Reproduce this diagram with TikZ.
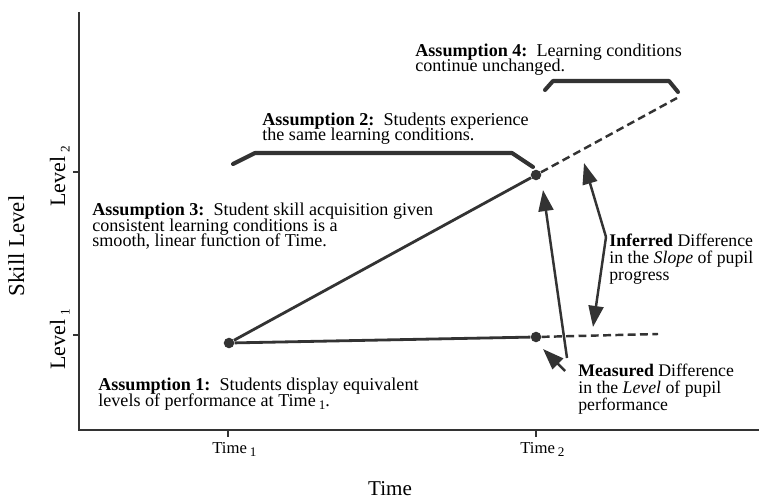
\documentclass[tikz,border=0pt]{standalone}
\usepackage{fontspec}
\setmainfont{Liberation Serif}
\usetikzlibrary{arrows.meta}
\definecolor{ink}{gray}{0.2}
\newcommand{\lowsub}[1]{\,\raisebox{-0.45ex}{\fontsize{7.5}{8}\selectfont #1}}
\newcommand{\tightlines}{\lineskiplimit=-10pt\relax}
\tikzset{
    axis line/.style={line width=1.4pt, draw=ink, line join=miter},
    trend/.style={line width=1.6pt, draw=ink},
    trend dashed/.style={line width=1.4pt, draw=ink, dash pattern=on 4.5pt off 2.5pt},
    bracket/.style={line width=2.3pt, draw=ink, line join=round, line cap=round},
    dot/.style={circle, fill=ink, inner sep=0pt, minimum size=6pt},
    note/.style={align=left, inner sep=0pt, anchor=base west,
        font=\fontsize{10.3}{9}\selectfont\tightlines},
    remark/.style={note, font=\fontsize{10.1}{9.4}\selectfont\tightlines},
    pointer/.style={line width=1.4pt, draw=ink, -{Triangle[length=12pt,width=8.5pt]}},
}

\begin{document}
\begin{tikzpicture}[x=0.02cm, y=-0.02cm]
\useasboundingbox (0,0) rectangle (759,499);

% axes and ticks
\coordinate (ytop) at (79,12);
\coordinate (xend) at (759,430);
\draw[axis line] (ytop) |- (xend);
\draw[axis line] (73,172) -- (79,172);
\draw[axis line] (73,335) -- (79,335);
\draw[axis line] (228,430) -- (228,437);
\draw[axis line] (536,430) -- (536,437);

% axis labels
\node[anchor=base, font=\fontsize{12}{14}\selectfont] (xlabel) at (390,495) {Time};
\node[anchor=base, rotate=90, font=\fontsize{13}{15}\selectfont] (ylabel) at (24,246) {Skill Level};
\node[anchor=base west, rotate=90, inner sep=0pt, font=\fontsize{12.5}{14}\selectfont] (lev2) at (65,207) {Level\lowsub{2}};
\node[anchor=base west, rotate=90, inner sep=0pt, font=\fontsize{12.5}{14}\selectfont] (lev1) at (65,370) {Level\lowsub{1}};
\node[anchor=base west, inner sep=0pt, font=\fontsize{9.5}{11}\selectfont] (time1) at (212,453) {Time\lowsub{1}};
\node[anchor=base west, inner sep=0pt, font=\fontsize{9.5}{11}\selectfont] (time2) at (520,453) {Time\lowsub{2}};

% pupil scores
\node[dot] (start) at (229,343) {};
\node[dot] (low) at (536,337) {};
\node[dot] (high) at (536,175) {};
\coordinate (highend) at (677,98);
\coordinate (lowend) at (658,334);

\draw[trend] (start) -- (high);
\draw[trend] (start) -- (low);
\draw[trend dashed] (high) -- (highend);
\draw[trend dashed] (low) -- (lowend);

% brackets over the time spans
\draw[bracket] (233,164) -- (255,153) -- (512,153) -- (533,167);
\draw[bracket] (545,90) -- (553,81) -- (669,81) -- (678,92);

% assumptions (placed by the baseline of their last line)
\node[note] (asm4) at (415,72) {\textbf{Assumption 4:}\enspace Learning conditions\\continue unchanged.};
\node[note] (asm2) at (262,141) {\textbf{Assumption 2:}\enspace Students experience\\the same learning conditions.};
\node[note] (asm3) at (92,247) {\textbf{Assumption 3:}\enspace Student skill acquisition given\\consistent learning conditions is a\\smooth, linear function of Time.};
\node[note] (asm1) at (98,406) {\textbf{Assumption 1:}\enspace Students display equivalent\\levels of performance at Time\lowsub{1}.};

% differences
\node[remark] (inferred) at (609,280) {\textbf{Inferred} Difference\\in the \textit{Slope} of pupil\\progress};
\node[remark] (measured) at (578,410) {\textbf{Measured} Difference\\in the \textit{Level} of pupil\\performance};

\coordinate (mtail) at (567,358);
\coordinate (mtip) at (543,190);
\coordinate (stail) at (565,371);
\coordinate (stip) at (543,349);
\coordinate (itail) at (606,237);
\coordinate (iup) at (584,163);
\coordinate (idown) at (593,327);

\draw[pointer] (mtail) -- (mtip);
\draw[pointer] (stail) -- (stip);
\draw[pointer] (itail) -- (iup);
\draw[pointer] (itail) -- (idown);
\end{tikzpicture}
\end{document}
